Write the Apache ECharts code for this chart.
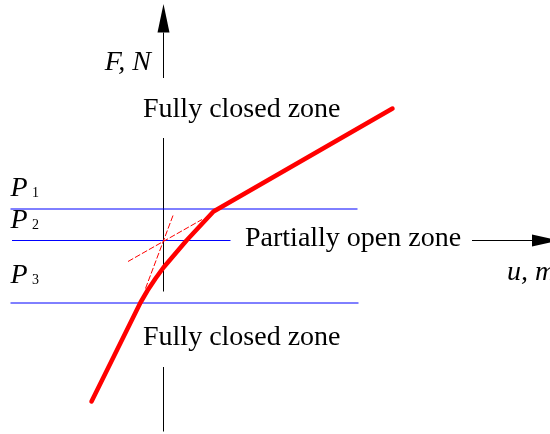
<!DOCTYPE html>
<html>
<head>
<meta charset="utf-8">
<script src="https://cdn.jsdelivr.net/npm/echarts@6/dist/echarts.min.js"></script>
<style>
  html, body { margin: 0; padding: 0; background: #fff; }
  #chart { width: 550px; height: 434px; }
</style>
</head>
<body>
<div id="chart"></div>
<script>
// Force–displacement characteristic F(u), origin at the crossing of the axes
const curveU = [-72, -23, -16, -8, 0, 23, 50, 229];
const curveF = [-161, -62, -50, -38, -27, 0, 29, 132];

// Tangent extensions of the two branches, meeting at the origin
const tangentU = [[-35.5, 38.5], [-18, 9.5]];
const tangentF = [[-21, 21], [-48, 25]];

// Threshold force levels P1, P2, P3
const levelNames = ['1', '2', '3'];
const levelF = [31.5, 0, -62.5];
const levelUStart = [-153, -151.5, -153];
const levelUEnd = [194, 67, 195];
const levelLabelF = [42.2, 10.5, -44.5];

// Zone captions
const zoneTexts = ['Fully closed zone', 'Partially open zone', 'Fully closed zone'];
const zoneU = [-20.5, 81.5, -20.5];
const zoneF = [121.2, -7.8, -106.2];

// Axis pieces (the F axis is interrupted by the zone captions)
const fAxisPieces = [[208, 162.5], [102.5, -51], [-126.5, -191]];
const fAxisTip = 236.5;
const uAxisPiece = [308.5, 368.5];
const uAxisTip = 395.5;
const axisTitles = ['F, N', 'u, m'];

const SERIF = '"Liberation Serif", "Times New Roman", serif';

const chart = echarts.init(document.getElementById('chart'), null, { renderer: 'canvas' });

function lineSeries(points, style) {
  return {
    type: 'line',
    data: points,
    symbol: 'none',
    silent: true,
    animation: false,
    lineStyle: style,
    z: style.z || 2
  };
}

const series = [];

// black axis pieces
fAxisPieces.forEach(p => {
  series.push(lineSeries([[0, p[0]], [0, p[1]]], { color: '#000', width: 1 }));
});
series.push(lineSeries([[uAxisPiece[0], 0], [uAxisPiece[1], 0]], { color: '#000', width: 1 }));

// threshold levels
levelF.forEach((f, i) => {
  series.push(lineSeries([[levelUStart[i], f], [levelUEnd[i], f]], { color: '#0000ff', width: 1, z: 3 }));
});

// tangent extensions (thin dashed)
tangentU.forEach((us, i) => {
  series.push(lineSeries([[us[0], tangentF[i][0]], [us[1], tangentF[i][1]]],
    { color: '#ff0000', width: 1, type: [6, 2], z: 4 }));
});

// characteristic curve
series.push(lineSeries(curveU.map((u, i) => [u, curveF[i]]),
  { color: '#ff0000', width: 4.5, cap: 'round', join: 'round', z: 5 }));

// arrowheads and text
function textEl(api, u, f, text, size, italic, align) {
  const p = api.coord([u, f]);
  return {
    type: 'text',
    style: {
      x: p[0],
      y: p[1] - 0.34 * size,
      text: text,
      font: (italic ? 'italic ' : '') + size + 'px ' + SERIF,
      fill: '#000',
      align: align || 'left',
      verticalAlign: 'middle'
    }
  };
}

series.push({
  type: 'custom',
  data: [[0, 0]],
  silent: true,
  animation: false,
  z: 6,
  renderItem: function (params, api) {
    const children = [];
    // arrow on F axis
    const ft = api.coord([0, fAxisTip]);
    const fb = api.coord([0, fAxisPieces[0][0]]);
    children.push({
      type: 'polygon',
      shape: { points: [ft, [fb[0] - 6, fb[1]], [fb[0] + 6, fb[1]]] },
      style: { fill: '#000' }
    });
    // arrow on u axis
    const ut = api.coord([uAxisTip, 0]);
    const ub = api.coord([uAxisPiece[1], 0]);
    children.push({
      type: 'polygon',
      shape: { points: [ut, [ub[0], ub[1] - 6], [ub[0], ub[1] + 6]] },
      style: { fill: '#000' }
    });
    // axis titles
    children.push(textEl(api, -12.5, 168.8, axisTitles[0], 28, true, 'right'));
    children.push(textEl(api, 343.5, -41.2, axisTitles[1], 28, true, 'left'));
    // zone captions
    zoneTexts.forEach((t, i) => {
      children.push(textEl(api, zoneU[i], zoneF[i], t, 28, false, 'left'));
    });
    // level labels P with subscripts
    levelNames.forEach((n, i) => {
      children.push(textEl(api, -153, levelLabelF[i], 'P', 28, true, 'left'));
      children.push(textEl(api, -131.5, levelLabelF[i], n, 14, false, 'left'));
    });
    return { type: 'group', children: children };
  }
});

chart.setOption({
  backgroundColor: '#fff',
  animation: false,
  grid: { left: 0, right: 0, top: 0, bottom: 0 },
  xAxis: { type: 'value', min: -163.5, max: 386.5, show: false },
  yAxis: { type: 'value', min: -193.5, max: 240.5, show: false },
  series: series
});
</script>
</body>
</html>
